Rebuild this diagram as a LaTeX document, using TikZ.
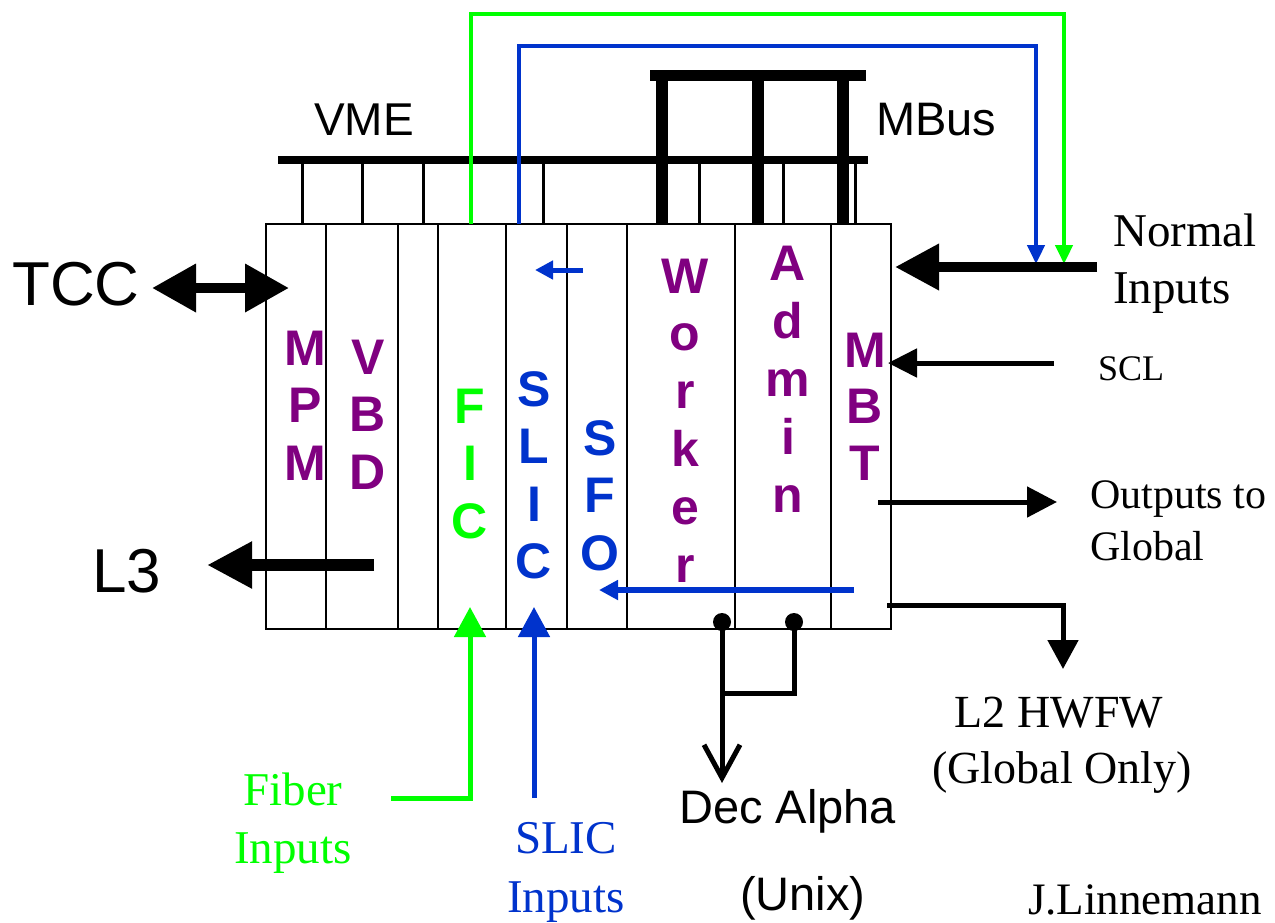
\documentclass[tikz,border=0pt]{standalone}
\usepackage{fontspec}
\setmainfont{Liberation Serif}
\newfontfamily\arial{Liberation Sans}
\usetikzlibrary{arrows.meta}
\definecolor{fgreen}{RGB}{0,255,0}
\definecolor{fblue}{RGB}{0,51,204}
\definecolor{fpurple}{RGB}{128,0,128}
\begin{document}
\begin{tikzpicture}[x=1pt,y=-1pt,
  crate/.style={line width=2.5pt},
  vmebus/.style={line width=8pt},
  stub/.style={line width=3pt},
  mbusleg/.style={line width=12pt},
  lbl/.style={inner sep=0pt, anchor=base west},
  clbl/.style={inner sep=0pt, anchor=base},
  colL/.style={inner sep=0pt, anchor=base, font=\arial\bfseries\fontsize{50}{58}\selectfont},
  sans/.style={font=\arial\fontsize{#1}{#1}\selectfont},
  serif/.style={font=\fontsize{#1}{#1}\selectfont},
  bigtip/.style={-{Triangle[length=44pt,width=44pt]}},
]
\useasboundingbox (0,0) rectangle (1275,922);

% VME bus and stubs
\draw[vmebus] (278,160) -- (868,160);
\foreach \x in {302,362,423,543,699,783,855} \draw[stub] (\x,160) -- (\x,224);
% MBus
\draw[line width=11pt] (650,75) -- (866,75);
\foreach \x in {662,758,843} \draw[mbusleg] (\x,75) -- (\x,224);

% crate
\draw[crate] (266,224) rectangle (891,629);
\foreach \x in {326,398,438,506,567,627,735,831} \draw[crate] (\x,224) -- (\x,629);

% green and blue loops to normal inputs
\draw[fgreen, line width=4.5pt, -{Triangle[length=19pt,width=17pt]}] (471,224) -- (471,14) -- (1064,14) -- (1064,264);
\draw[fblue, line width=4.5pt, -{Triangle[length=19pt,width=17pt]}] (519,224) -- (519,46) -- (1036,46) -- (1036,264);

% right side arrows
\draw[line width=10pt, bigtip] (1097,267) -- (895,267);
\draw[line width=5pt, -{Triangle[length=29pt,width=28pt]}] (1054,363) -- (888,363);
\draw[line width=5pt, -{Triangle[length=30pt,width=30pt]}] (878,502) -- (1057,502);
\draw[line width=5pt, -{Triangle[length=29pt,width=30pt]}] (887,605) -- (1063,605) -- (1063,669);

% left arrows
\draw[line width=10pt, {Triangle[length=44pt,width=46pt]}-{Triangle[length=44pt,width=46pt]}] (152,288) -- (289,288);
\draw[line width=12pt, -{Triangle[length=45pt,width=44pt]}] (374,565) -- (207,565);

% blue internal arrows
\draw[fblue, line width=5pt, -{Triangle[length=18pt,width=18pt]}] (583,270) -- (535,270);
\draw[fblue, line width=5.5pt, -{Triangle[length=19pt,width=19pt]}] (854,590) -- (599,590);

% bottom inputs
\draw[fgreen, line width=5pt, -{Triangle[length=30pt,width=31pt]}] (391,798) -- (470,798) -- (470,607);
\draw[fblue, line width=5pt, -{Triangle[length=30pt,width=31pt]}] (534,798) -- (534,607);

% Dec Alpha connection
\fill (722,622) circle (9pt);
\fill (794,622) circle (9pt);
\draw[line width=5pt, -{Straight Barb[length=33pt,width=36pt]}] (722,622) -- (722,783);
\draw[line width=5pt] (794,622) -- (794,693) -- (720,693);

% column letters
\foreach \ch [count=\i from 0] in {M,P,M} \node[colL, fpurple] (mpm\i) at (305,{365+57.5*\i}) {\ch};
\foreach \ch [count=\i from 0] in {V,B,D} \node[colL, fpurple] (vbd\i) at (368,{374+57.5*\i}) {\ch};
\foreach \ch [count=\i from 0] in {F,I,C} \node[colL, fgreen] (fic\i) at (470,{423+57.5*\i}) {\ch};
\foreach \ch [count=\i from 0] in {S,L,I,C} \node[colL, fblue] (slic\i) at (534,{406+57.5*\i}) {\ch};
\foreach \ch [count=\i from 0] in {S,F,O} \node[colL, fblue] (sfo\i) at (600,{455+57.5*\i}) {\ch};
\foreach \ch [count=\i from 0] in {W,o,r,k,e,r} \node[colL, fpurple] (wk\i) at (685,{293+57.8*\i}) {\ch};
\foreach \ch [count=\i from 0] in {A,d,m,i,n} \node[colL, fpurple] (adm\i) at (788,{280+58*\i}) {\ch};
\foreach \ch [count=\i from 0] in {M,B,T} \node[colL, fpurple] (mbt\i) at (865,{367+56.5*\i}) {\ch};

% labels
\node[clbl, sans=46] (vme) at (364,135) {VME};
\node[lbl, sans=47] (mbus) at (876,135) {MBus};
\node[lbl, sans=62] (tcc) at (12,305) {TCC};
\node[lbl, sans=62] (l3) at (92,592) {L3};
\node[lbl, serif=47] (ni1) at (1113,246) {Normal};
\node[lbl, serif=47] (ni2) at (1113,303) {Inputs};
\node[lbl, serif=36] (scl) at (1098,380) {SCL};
\node[lbl, serif=42] (og1) at (1090,508) {Outputs to};
\node[lbl, serif=42] (og2) at (1090,560) {Global};
\node[clbl, serif=46] (l2a) at (1059,727) {L2 HWFW};
\node[clbl, serif=46] (l2b) at (1062,783) {(Global Only)};
\node[clbl, serif=47, fgreen] (fi1) at (293,805) {Fiber};
\node[clbl, serif=47, fgreen] (fi2) at (293,863) {Inputs};
\node[clbl, serif=47, fblue] (si1) at (566,853) {SLIC};
\node[clbl, serif=47, fblue] (si2) at (566,912) {Inputs};
\node[lbl, sans=47] (dec) at (679,823) {Dec Alpha};
\node[lbl, sans=47] (unix) at (740,910) {(Unix)};
\node[lbl, serif=45] (jl) at (1028,914) {J.Linnemann};
\end{tikzpicture}
\end{document}
